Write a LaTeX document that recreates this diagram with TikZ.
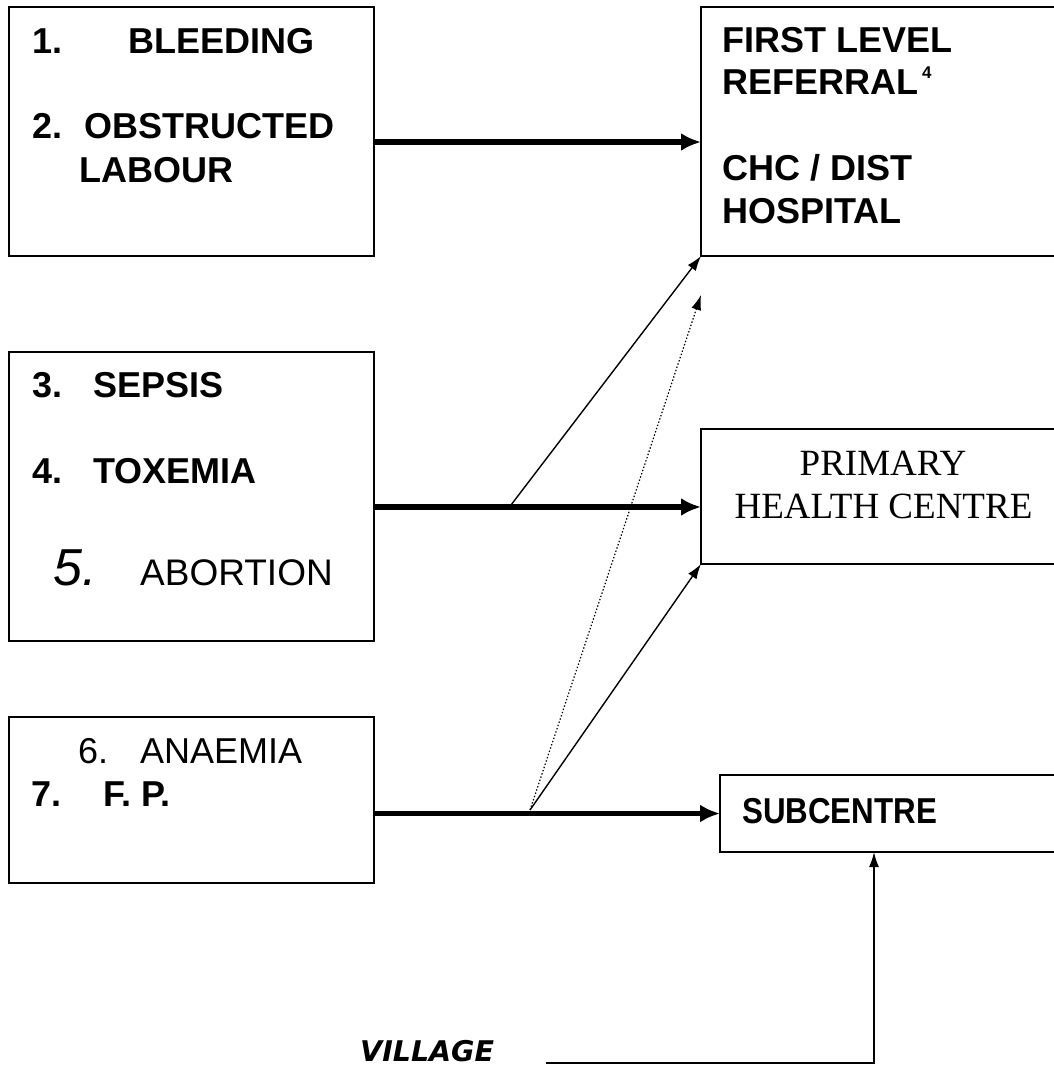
\documentclass[tikz,border=0pt]{standalone}
\usepackage{fontspec}
\setmainfont{Liberation Sans}
\newfontfamily\timesfont{Liberation Serif}
\newfontfamily\gothfont[FakeStretch=0.87]{Liberation Sans}
\newfontfamily\vilfont{DejaVu Sans}
\usepackage{tikz}
\usetikzlibrary{arrows.meta,positioning,calc}

\begin{document}
\begin{tikzpicture}[
  x=1pt,y=-1pt,
  box/.style={rectangle,draw,line width=1.8pt,inner sep=0pt,outer sep=0pt},
  boldlbl/.style={anchor=base west,inner sep=0pt,font=\fontsize{36}{40}\selectfont\bfseries},
  plainlbl/.style={anchor=base west,inner sep=0pt,font=\fontsize{37}{40}\selectfont},
  serlbl/.style={anchor=base,inner sep=0pt,font=\fontsize{37}{40}\selectfont\timesfont},
  thickarr/.style={-{Latex[length=20pt,width=18pt]},line width=5.5pt},
  thinarr/.style={-{Latex[length=15pt,width=10pt]},line width=1.4pt}
]
\useasboundingbox (0,0) rectangle (1054,1069);

% left column: complications
\node[box,minimum width=365pt,minimum height=249pt] (bleed) at (191.5,131.5) {};
\node[box,minimum width=365pt,minimum height=289pt] (sepsis) at (191.5,496.5) {};
\node[box,minimum width=365pt,minimum height=166pt] (anaem) at (191.5,800) {};

% right column: facilities (cut off at the right margin)
\node[box,minimum width=359pt,minimum height=249pt] (flr) at (880.5,131.5) {};
\node[box,minimum width=359pt,minimum height=135pt] (phc) at (880.5,496.5) {};
\node[box,minimum width=340pt,minimum height=77pt] (subc) at (890,813.5) {};

% box texts
\node[boldlbl] at (32,53) {1.};
\node[boldlbl] at (128,53) {BLEEDING};
\node[boldlbl] at (32,138) {2.};
\node[boldlbl] at (84,138) {OBSTRUCTED};
\node[boldlbl] at (79,182) {LABOUR};

\node[boldlbl] at (722,52) {FIRST LEVEL};
\node[boldlbl] at (722,94) {REFERRAL\hspace{4pt}\raisebox{16pt}{\fontsize{17}{18}\selectfont\bfseries 4}};
\node[boldlbl] at (722,180) {CHC / DIST};
\node[boldlbl] at (722,223) {HOSPITAL};

\node[boldlbl] at (32,397) {3.};
\node[boldlbl] at (93,397) {SEPSIS};
\node[boldlbl] at (32,483) {4.};
\node[boldlbl] at (93,483) {TOXEMIA};
\node[plainlbl,font=\fontsize{52}{56}\selectfont\itshape] at (53,585) {5.};
\node[plainlbl] at (140,585) {ABORTION};

\node[plainlbl,font=\fontsize{36}{40}\selectfont] at (78,763) {6.};
\node[plainlbl,font=\fontsize{36}{40}\selectfont] at (140,763) {ANAEMIA};
\node[boldlbl] at (31,806) {7.};
\node[boldlbl] at (103,806) {F. P.};

\node[serlbl] at (883,475) {PRIMARY};
\node[serlbl] at (883.5,518) {HEALTH CENTRE};

\node[boldlbl,font=\fontsize{36}{40}\selectfont\gothfont\bfseries] at (742,823) {SUBCENTRE};

\node[anchor=base west,inner sep=0pt,font=\fontsize{28.5}{32}\selectfont\vilfont\bfseries\itshape] (village) at (360,1061) {VILLAGE};

% main referral arrows
\draw[thickarr] ([yshift=-10.5pt]bleed.east) -- ([yshift=-10.5pt]flr.west);
\draw[thickarr] ([yshift=-10.5pt]sepsis.east) -- ([yshift=-10.5pt]phc.west);
\draw[thickarr] (anaem.east |- subc.west) -- (subc.west);

% branch points on the main arrows
\coordinate (j2) at (511,505);
\coordinate (j3) at (530,810);
\coordinate (dotend) at (701,295);

\draw[thinarr] (j2) -- (flr.south west);
\draw[thinarr] (j3) -- (phc.south west);
\draw[thinarr,dotted,line width=1.2pt] (j3) -- (dotend);

% village to subcentre
\coordinate (vstart) at (546,1063);
\draw[-{Latex[length=15pt,width=10pt]},line width=1.6pt] (vstart) -| ([xshift=-16pt]subc.south);

\end{tikzpicture}
\end{document}
